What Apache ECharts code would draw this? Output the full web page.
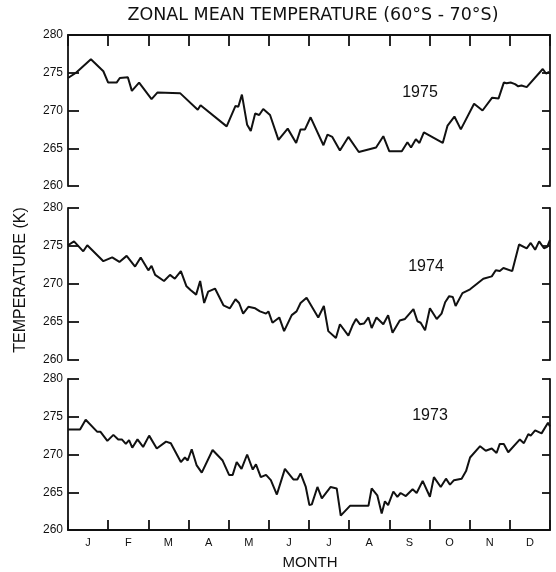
<!DOCTYPE html>
<html><head><meta charset="utf-8">
<script src="https://cdn.jsdelivr.net/npm/echarts@6/dist/echarts.min.js"></script>
<style>html,body{margin:0;padding:0;background:#fff}#c{width:556px;height:572px}</style>
</head><body><div id="c"></div>
<script>
// ---- data (x = position in months from 1 Jan, y = temperature K) ----
const months = ['J','F','M','A','M','J','J','A','S','O','N','D'];
const years = ['1975','1974','1973'];
const yMin = 260, yMax = 280, yStep = 5;

const t1975 = [[0,274.3],[0.20,275.0],[0.57,276.8],[0.88,275.2],[1.00,273.7],[1.21,273.7],[1.29,274.3],[1.49,274.4],[1.59,272.6],[1.77,273.7],[2.08,271.5],[2.23,272.4],[2.79,272.3],[3.23,270.1],[3.30,270.7],[3.95,267.9],[4.17,270.6],[4.24,270.5],[4.33,272.1],[4.46,268.1],[4.55,267.3],[4.66,269.6],[4.76,269.4],[4.86,270.2],[5.03,269.4],[5.24,266.1],[5.47,267.6],[5.68,265.7],[5.79,267.5],[5.90,267.5],[6.04,269.1],[6.36,265.4],[6.46,266.8],[6.58,266.5],[6.77,264.7],[6.98,266.5],[7.24,264.5],[7.67,265.1],[7.85,266.6],[8.00,264.6],[8.31,264.6],[8.45,265.8],[8.54,265.1],[8.66,266.2],[8.75,265.7],[8.86,267.1],[9.33,265.7],[9.45,268.0],[9.62,269.2],[9.78,267.5],[10.11,270.9],[10.32,270.0],[10.56,271.7],[10.72,271.6],[10.85,273.7],[10.92,273.6],[11.02,273.7],[11.13,273.5],[11.21,273.2],[11.29,273.3],[11.42,273.1],[11.82,275.5],[11.90,274.9],[11.98,275.1]];

const t1974 = [[0,275.1],[0.15,275.6],[0.38,274.3],[0.48,275.1],[0.88,273.0],[1.10,273.5],[1.28,272.9],[1.46,273.7],[1.67,272.3],[1.81,273.5],[2.00,271.8],[2.08,272.4],[2.17,271.2],[2.39,270.4],[2.54,271.2],[2.66,270.7],[2.81,271.7],[2.95,269.7],[3.05,269.2],[3.19,268.6],[3.29,270.4],[3.39,267.5],[3.49,269.0],[3.66,269.4],[3.87,267.2],[4.03,266.8],[4.17,268.0],[4.26,267.5],[4.36,266.1],[4.49,267.0],[4.66,266.8],[4.78,266.4],[4.93,266.1],[4.99,266.4],[5.09,264.9],[5.26,265.6],[5.38,263.8],[5.57,265.9],[5.69,266.4],[5.79,267.5],[5.94,268.2],[6.23,265.6],[6.37,267.1],[6.48,263.8],[6.67,262.9],[6.77,264.7],[6.98,263.2],[7.08,264.5],[7.17,265.4],[7.27,264.7],[7.37,264.8],[7.48,265.6],[7.56,264.2],[7.68,265.6],[7.85,264.7],[7.97,265.9],[8.08,263.6],[8.26,265.2],[8.39,265.4],[8.60,266.7],[8.70,265.1],[8.78,264.9],[8.89,263.9],[9.01,266.8],[9.18,265.4],[9.30,266.1],[9.39,267.6],[9.49,268.4],[9.58,268.3],[9.65,267.1],[9.82,268.8],[10.01,269.3],[10.34,270.7],[10.55,271.0],[10.65,271.8],[10.75,271.7],[10.84,272.1],[11.06,271.7],[11.23,275.2],[11.42,274.7],[11.52,275.4],[11.63,274.5],[11.73,275.6],[11.85,274.7],[11.93,274.9],[12.00,275.8]];

const t1973 = [[0,273.3],[0.30,273.3],[0.44,274.6],[0.73,273.0],[0.81,273.0],[0.98,271.8],[1.13,272.6],[1.25,272.0],[1.34,272.0],[1.44,271.4],[1.52,271.9],[1.60,270.9],[1.73,272.0],[1.87,271.0],[2.02,272.5],[2.21,270.8],[2.44,271.7],[2.56,271.5],[2.81,269.0],[2.91,269.6],[2.98,269.2],[3.08,270.7],[3.20,268.6],[3.33,267.6],[3.60,270.6],[3.85,269.2],[4.01,267.3],[4.10,267.3],[4.20,269.0],[4.32,268.1],[4.46,270.0],[4.60,268.0],[4.68,268.7],[4.80,267.0],[4.93,267.3],[5.05,266.6],[5.20,264.7],[5.40,268.1],[5.61,266.7],[5.71,266.7],[5.79,267.5],[5.92,265.7],[6.01,263.3],[6.07,263.4],[6.21,265.7],[6.32,264.2],[6.54,265.7],[6.69,265.5],[6.79,261.9],[7.02,263.2],[7.48,263.2],[7.56,265.5],[7.70,264.6],[7.81,262.2],[7.89,263.8],[7.97,263.3],[8.10,265.1],[8.20,264.4],[8.28,264.9],[8.41,264.5],[8.58,265.4],[8.68,264.9],[8.83,266.5],[9.01,264.4],[9.11,267.0],[9.28,265.7],[9.41,266.8],[9.51,266.0],[9.61,266.6],[9.80,266.8],[9.91,267.8],[10.01,269.6],[10.26,271.1],[10.40,270.5],[10.55,270.8],[10.67,270.2],[10.75,271.4],[10.85,271.4],[10.96,270.3],[11.25,272.0],[11.35,271.5],[11.46,272.7],[11.52,272.5],[11.63,273.2],[11.79,272.8],[11.95,274.2],[12.00,273.7]];

const panels = [t1975, t1974, t1973];

// ---- chart ----
const INK = '#111';
const FONT = '"Liberation Sans", Arial, sans-serif';
const TFONT = '"DejaVu Sans", sans-serif';
const grids = [
  {left: 68, right: 6, top: 35, height: 151},
  {left: 68, right: 6, top: 208, height: 152},
  {left: 68, right: 6, top: 379, height: 151}
];
const axLine = {show: true, onZero: false, lineStyle: {color: INK, width: 1.8}};

const xAxis = [
  {gridIndex: 0, type: 'value', position: 'top', min: 0, max: 12, interval: 1,
   axisLine: axLine, axisTick: {show: true, inside: true, length: 11, lineStyle: {color: INK, width: 1.8}},
   axisLabel: {show: false}, splitLine: {show: false}},
  {gridIndex: 1, type: 'value', min: 0, max: 12, show: false},
  {gridIndex: 2, type: 'value', position: 'bottom', min: 0, max: 12, interval: 1,
   axisLine: axLine, axisTick: {show: true, inside: true, length: 10, lineStyle: {color: INK, width: 1.8}},
   axisLabel: {show: false}, splitLine: {show: false}},
  {gridIndex: 2, type: 'category', position: 'bottom', data: months, boundaryGap: true,
   axisLine: {show: false}, axisTick: {show: false}, splitLine: {show: false},
   axisLabel: {color: INK, fontFamily: FONT, fontSize: 11, margin: 7}}
];

const yAxis = [];
for (let g = 0; g < 3; g++) {
  yAxis.push({gridIndex: g, type: 'value', position: 'left', min: yMin, max: yMax, interval: yStep,
    axisLine: axLine, axisTick: {show: true, inside: true, length: 11, lineStyle: {color: INK, width: 1.8}},
    axisLabel: {color: INK, fontFamily: FONT, fontSize: 12, margin: 5}, splitLine: {show: false}});
  yAxis.push({gridIndex: g, type: 'value', position: 'right', min: yMin, max: yMax, interval: yStep,
    axisLine: axLine, axisTick: {show: true, inside: true, length: 8, lineStyle: {color: INK, width: 1.8}},
    axisLabel: {show: false}, splitLine: {show: false}});
}

const xIdx = [0, 1, 2];
const series = panels.map((d, i) => ({
  type: 'line', xAxisIndex: xIdx[i], yAxisIndex: i * 2, data: d,
  showSymbol: false, symbol: 'none', animation: false,
  lineStyle: {color: INK, width: 2}
}));

const txt = (text, x, y, font, extra) => Object.assign({
  type: 'text', x: x, y: y, silent: true,
  style: {text: text, fill: INK, font: font,
          textAlign: 'center', textVerticalAlign: 'middle', align: 'center', verticalAlign: 'middle'}
}, extra || {});

const yearPos = [[420, 93], [426, 267], [430, 416]];
const graphic = [
  txt('ZONAL MEAN TEMPERATURE (60°S - 70°S)', 313, 15, '17.5px ' + TFONT),
  txt('TEMPERATURE (K)', 21, 280, '16px ' + FONT, {rotation: Math.PI / 2}),
  txt('MONTH', 310, 563, '15px ' + FONT)
].concat(years.map((y, i) => txt(y, yearPos[i][0], yearPos[i][1], '16px ' + FONT)));

const chart = echarts.init(document.getElementById('c'), null, {renderer: 'canvas'});
chart.setOption({
  animation: false,
  backgroundColor: '#fff',
  grid: grids,
  xAxis: xAxis,
  yAxis: yAxis,
  series: series,
  graphic: graphic
});
</script></body></html>
